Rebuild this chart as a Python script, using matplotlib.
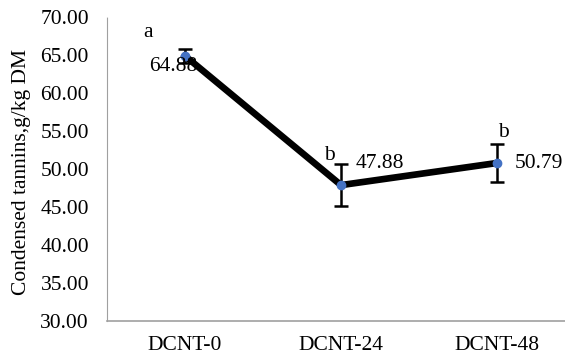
import matplotlib.pyplot as plt

plt.rcParams['font.family'] = ['Liberation Serif', 'DejaVu Serif']

treatments = ['DCNT-0', 'DCNT-24', 'DCNT-48']
tannins = [64.88, 47.88, 50.79]
errors = [0.9, 2.75, 2.45]
letters = ['a', 'b', 'b']
yticks = [30, 35, 40, 45, 50, 55, 60, 65, 70]

# label offsets in pixels (dx, dy) relative to each point
letter_offsets = [(-37, 23), (-12, 30), (6, 30)]
value_offsets = [(-12, -11), (39, 22), (42, -1)]

fig = plt.figure(figsize=(5.65, 3.56), dpi=100)
ax = fig.add_axes([107 / 565, 1 - 321 / 356, 1 - 107 / 565, (321 - 17) / 356])

x = list(range(len(treatments)))
ax.errorbar(x, tannins, yerr=errors, color='black', lw=4.8, capsize=5,
            elinewidth=1.8, capthick=1.8, zorder=2)
ax.plot(x, tannins, 'o', color='#4472C4', ms=6, zorder=3)

fs = 15.5
for i, v in enumerate(tannins):
    ax.annotate(letters[i], (i, v), xytext=letter_offsets[i], textcoords='offset pixels',
                ha='center', va='center', fontsize=fs)
    ax.annotate('%.2f' % v, (i, v), xytext=value_offsets[i], textcoords='offset pixels',
                ha='center', va='center', fontsize=fs)

ax.set_xlim(-0.5, -0.5 + (565 - 107) / 156)
ax.set_ylim(30, 70)
ax.set_yticks(yticks)
ax.set_yticklabels(['%.2f' % t for t in yticks], fontsize=fs)
ax.set_xticks(x)
ax.set_xticklabels(treatments, fontsize=fs)
ax.tick_params(axis='y', length=0, pad=13)
ax.tick_params(axis='x', length=0, pad=11)

ax.spines['top'].set_visible(False)
ax.spines['right'].set_visible(False)
ax.spines['left'].set_color('#a0a0a0')
ax.spines['left'].set_linestyle((0, (1, 1)))
ax.spines['bottom'].set_color('#a0a0a0')
ax.spines['bottom'].set_linewidth(1.2)

ax.set_ylabel('Condensed tannins,g/kg DM', fontsize=fs)
ax.yaxis.set_label_coords(-0.165, 0.49)

fig.savefig('out.png', dpi=100)
